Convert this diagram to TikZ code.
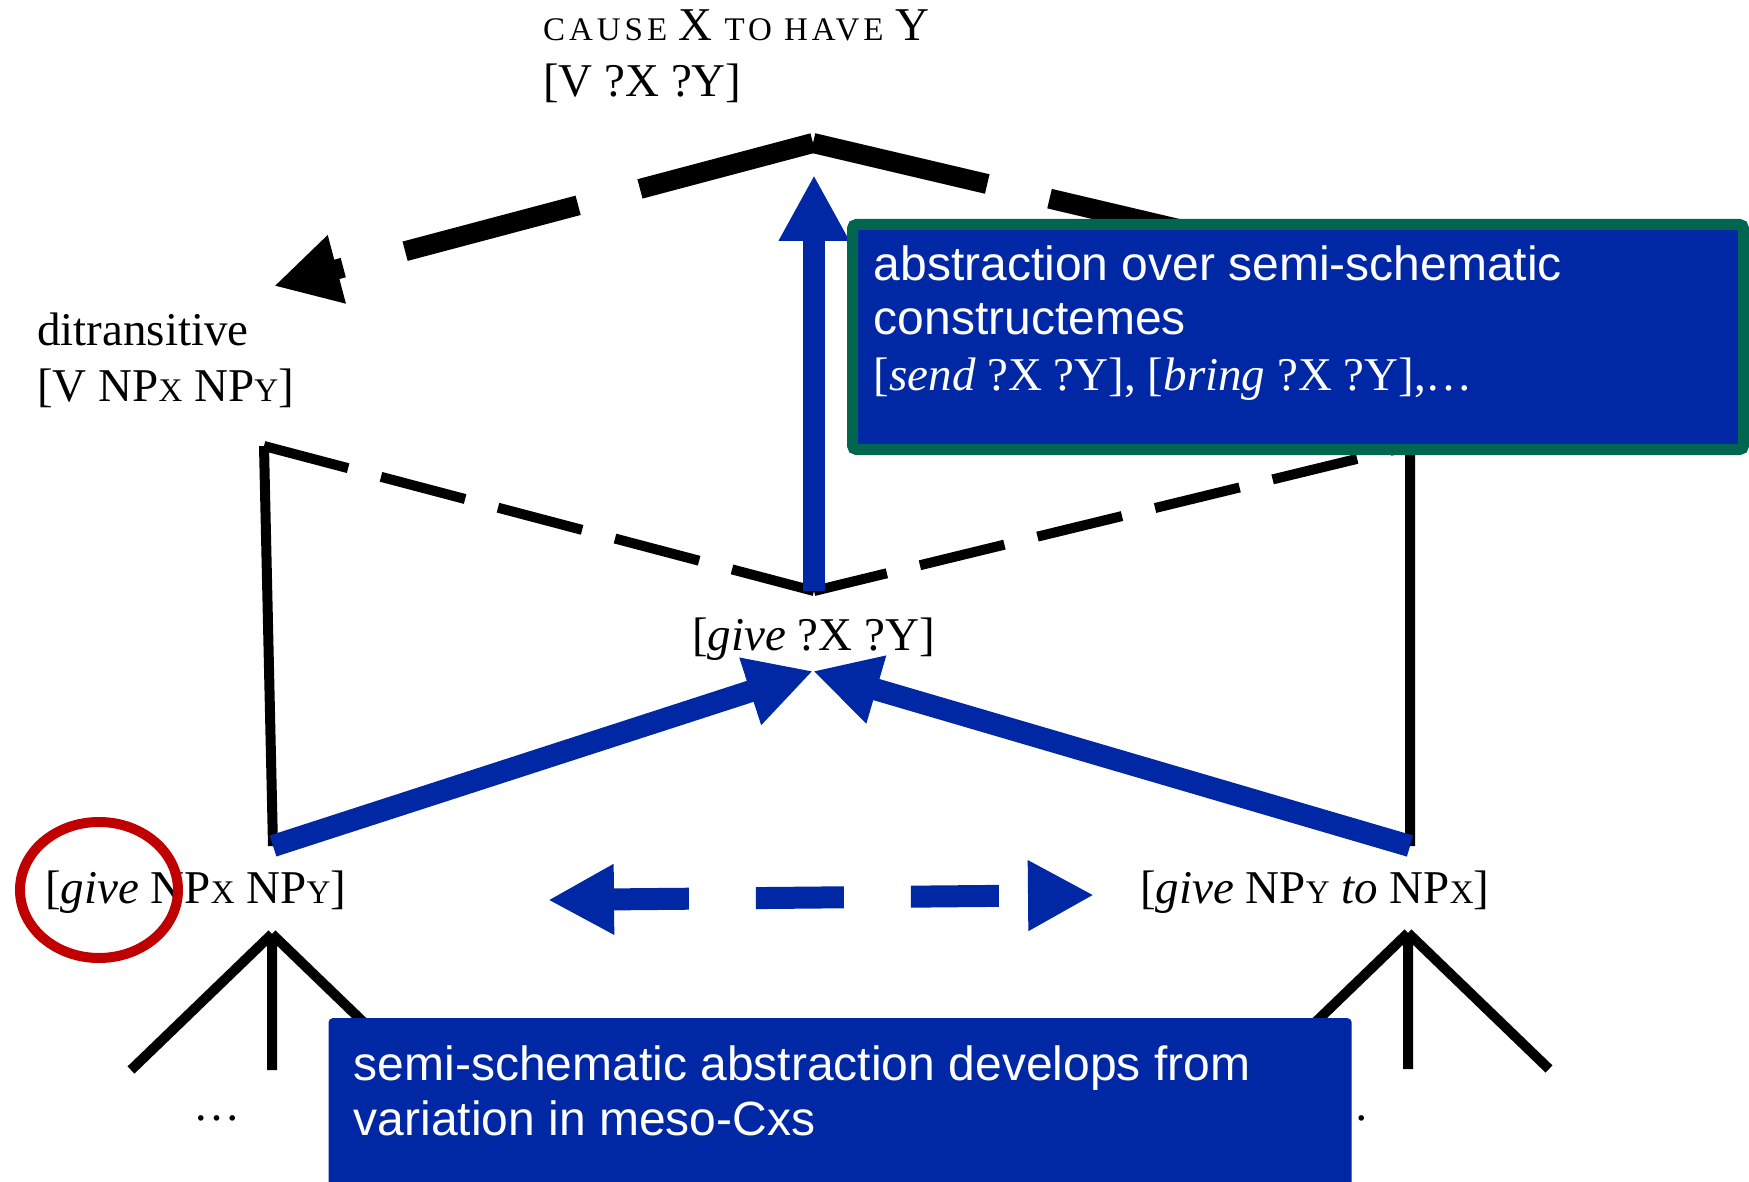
\documentclass[tikz,border=0pt]{standalone}
\usepackage{fontspec}
\setmainfont{Liberation Serif}
\setsansfont{Liberation Sans}
\usetikzlibrary{arrows.meta}
\definecolor{cxblue}{RGB}{0,40,165}
\definecolor{cxgreen}{RGB}{0,102,80}
\definecolor{cxred}{RGB}{192,0,0}
\newcommand\smc[1]{{\fontsize{33}{33}\selectfont #1}}
\newcommand\smcs[1]{{\fontsize{33}{33}\selectfont\addfontfeature{LetterSpace=12}#1}}

\begin{document}
\begin{tikzpicture}[x=1pt,y=-1pt,
    every node/.style={inner sep=0pt,font=\fontsize{47}{56}\selectfont},
    lab/.style={anchor=base west,align=left},
    roof/.style={line width=20pt,dash pattern=on 179pt off 64pt},
    vlink/.style={line width=10pt,dash pattern=on 87pt off 34pt},
    stem/.style={line width=10pt},
    abstrarrow/.style={cxblue,line width=22pt,-{Triangle[length=66pt,width=66pt]}},
    cxbox/.style={fill=cxblue,rounded corners=4pt},
    boxtext/.style={anchor=base west,align=left,text=white,
      font=\sffamily\fontsize{48}{55}\selectfont}]
  \useasboundingbox(0,0)rectangle(1749,1182);
  % corner points of the lattice
  \coordinate(R)at(813,143);\coordinate(RR)at(1408,283);\coordinate(RL)at(274,286);
  \coordinate(Vb)at(814,591);\coordinate(Vl)at(264,446);\coordinate(Vr)at(1410,446);
  \coordinate(Fl)at(273,846);\coordinate(Fr)at(1410,846);
  \coordinate(G)at(813,671);\coordinate(Rt)at(814,175);
  \coordinate(Tl)at(272,934);\coordinate(Tr)at(1408,933);
  \coordinate(Dl)at(548,900);\coordinate(Dr)at(1094,895);
  \draw[roof](R)--(RR);
  \draw[roof,-{Triangle[length=65pt,width=66pt]}](R)--(RL);
  \draw[vlink](Vl)--(Vb);
  \draw[vlink,dash phase=12pt](Vb)--(Vr);
  \draw[stem](Vl)--(Fl)(Vr)--(Fr);
  \draw[abstrarrow](Vb)--(Rt);
  \draw[abstrarrow](Fl)--(G);
  \draw[abstrarrow](Fr)--(G);
  \draw[cxblue,line width=22pt,dash pattern=on 88pt off 67pt,dash phase=9pt,
    {Triangle[length=66pt,width=66pt]}-{Triangle[length=66pt,width=66pt]}](Dl)--(Dr);
  \foreach \t in {Tl,Tr}
    \draw[stem](\t)--++(-141,136)(\t)--++(0,136)(\t)--++(141,136);
  \node[lab](cause)at(543,97){\smcs{CAUSE} X \smcs{TO HAVE} Y\\{[}V ?X ?Y]};
  \node[lab](ditr)at(37,402){ditransitive\\{[}V NP\smc{X} NP\smc{Y}]};
  \node[lab](give)at(692,650){[\textit{give} ?X ?Y]};
  \node[lab](givedo)at(45,903){[\textit{give} NP\smc{X} NP\smc{Y}]};
  \node[lab](giveto)at(1140,903){[\textit{give} NP\smc{Y} \textit{to} NP\smc{X}]};
  \node[anchor=base](dotsl)at(217,1120){…};
  \node[anchor=base](dotsr)at(1346,1120){…};
  \draw[cxred,line width=10pt](99,890)ellipse[x radius=79pt,y radius=68pt];
  \node[cxbox,draw=cxgreen,line width=11pt,minimum width=891pt,
    minimum height=225pt](abstr)at(1298,337){};
  \node[boxtext](abstrtext)at(873.6,390){abstraction over semi-schematic\\
    constructemes\\{\rmfamily\fontsize{47}{55}\selectfont
    [\textit{send} ?X ?Y], [\textit{bring} ?X ?Y],…}};
  \node[cxbox,anchor=north west,minimum width=1023pt,minimum height=220pt]
    (semi)at(328.4,1018){};
  \node[boxtext](semitext)at(353.7,1135){semi-schematic abstraction develops from\\
    variation in meso-Cxs};
\end{tikzpicture}
\end{document}
